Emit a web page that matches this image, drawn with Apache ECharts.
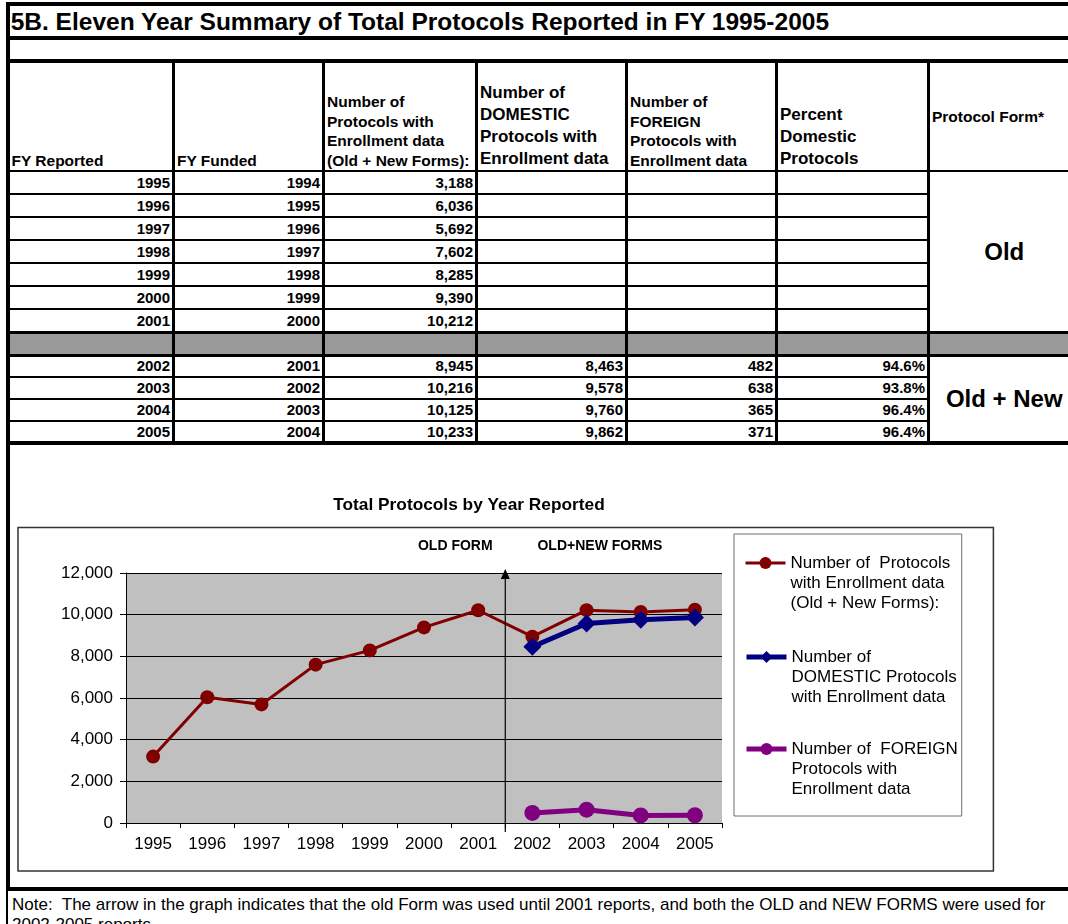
<!DOCTYPE html>
<html><head><meta charset="utf-8">
<script src="https://cdn.jsdelivr.net/npm/echarts@6/dist/echarts.min.js"></script>
<style>
html,body{margin:0;padding:0;background:#fff;}
body{width:1068px;height:924px;overflow:hidden;position:relative;font-family:"Liberation Sans",Arial,sans-serif;color:#000;}
.ln{position:absolute;background:#000;}
.cell{position:absolute;box-sizing:border-box;display:flex;font-weight:bold;white-space:nowrap;}
</style></head><body>
<div id="page"></div>
<div id="chart" style="position:absolute;left:10px;top:446px;width:1058px;height:440px;"></div>
<script>
// ---------------- DATA ----------------
const pageTitle = '5B. Eleven Year Summary of Total Protocols Reported in FY 1995-2005';
const fyReported = [1995, 1996, 1997, 1998, 1999, 2000, 2001, 2002, 2003, 2004, 2005];
const fyFunded = [1994, 1995, 1996, 1997, 1998, 1999, 2000, 2001, 2002, 2003, 2004];
const totalProtocols = [3188, 6036, 5692, 7602, 8285, 9390, 10212, 8945, 10216, 10125, 10233];
const domesticProtocols = [null, null, null, null, null, null, null, 8463, 9578, 9760, 9862];
const foreignProtocols = [null, null, null, null, null, null, null, 482, 638, 365, 371];
const percentDomestic = [null, null, null, null, null, null, null, 94.6, 93.8, 96.4, 96.4];
const columnHeaders = [
  ['FY Reported'],
  ['FY Funded'],
  ['Number of', 'Protocols with', 'Enrollment data', '(Old + New Forms):'],
  ['Number of', 'DOMESTIC', 'Protocols with', 'Enrollment data'],
  ['Number of', 'FOREIGN', 'Protocols with', 'Enrollment data'],
  ['Percent', 'Domestic', 'Protocols'],
  ['Protocol Form*']
];
const formGroups = ['Old', 'Old + New'];
const chartTitle = 'Total Protocols by Year Reported';
const formMarks = ['OLD FORM', 'OLD+NEW FORMS'];
const seriesNames = [
  'Number of  Protocols\nwith Enrollment data\n(Old + New Forms):',
  'Number of\nDOMESTIC Protocols\nwith Enrollment data',
  'Number of  FOREIGN\nProtocols with\nEnrollment data'
];
const noteText = 'Note:  The arrow in the graph indicates that the old Form was used until 2001 reports, and both the OLD and NEW FORMS were used for\n2002-2005 reports.';

// ---------------- TABLE (HTML) ----------------
const page = document.getElementById('page');
function line(x, y, w, h, bg) {
  const d = document.createElement('div');
  d.className = 'ln';
  d.style.cssText = `left:${x}px;top:${y}px;width:${w}px;height:${h}px;background:${bg || '#000'};`;
  page.appendChild(d);
  return d;
}
function cell(x, y, w, h, html, css) {
  const d = document.createElement('div');
  d.className = 'cell';
  d.style.cssText = `left:${x}px;top:${y}px;width:${w}px;height:${h}px;` + (css || '');
  d.innerHTML = html;
  page.appendChild(d);
  return d;
}
const W = 1068;
const colX = [8, 173.5, 323.5, 476.5, 626.5, 776.5, 928.5, 1080];
const headerTop = 62.5, headerBottom = 171;
const oldH = 23, grayH = 23, newH = [22, 22, 22, 22];
const rowTops = [], rowHs = [];
let yy = headerBottom;
for (let i = 0; i < 7; i++) { rowTops.push(yy); rowHs.push(oldH); yy += oldH; }
const grayTop = yy; yy += grayH; const grayBottom = yy;
for (let i = 0; i < 4; i++) { rowTops.push(yy); rowHs.push(newH[i]); yy += newH[i]; }
const tableBottom = yy;

// gray separator row
line(8, grayTop, W - 8, grayH, '#999999');

// title
cell(10.7, 7.5, 1055, 28, pageTitle, 'font-size:24.5px;line-height:28px;');

// frame lines
line(6, 2, 4, 888);              // left border
line(6, 2, W - 6, 4);            // top border
line(6, 36, W - 6, 3.5);
line(6, 58.5, W - 6, 4);
line(6, headerBottom - 1, W - 6, 2);
for (let i = 1; i < 7; i++) line(8, rowTops[i] - 1, colX[6] - 8, 2);
line(6, grayTop - 1.5, W - 6, 3);
line(6, grayBottom - 1.5, W - 6, 3);
for (let i = 8; i < 11; i++) line(8, rowTops[i] - 1, colX[6] - 8, 2);
line(6, tableBottom - 2, W - 6, 4);
for (let c = 1; c <= 6; c++) line(colX[c] - 1.25, 60.5, 2.5, tableBottom - 60.5);
line(6, 886.5, W - 6, 4);
line(6, 890, 1.5, 40);

// header cells
const hdrFont = [15.5, 15.5, 15.5, 17, 15.5, 17, 15.5];
const hdrLH = [19.5, 19.5, 19.5, 22, 19.5, 22, 19.5];
columnHeaders.forEach((lines, c) => {
  const x = colX[c] + 1.5 + 2;
  const w = colX[c + 1] - colX[c] - 5;
  const just = c === 6 ? 'center' : 'flex-end';
  cell(x, headerTop, w, headerBottom - 1 - headerTop,
    lines.map(s => `<div>${s}</div>`).join(''),
    `flex-direction:column;justify-content:${just};font-size:${hdrFont[c]}px;line-height:${hdrLH[c]}px;`);
});

// data cells
const fmt = v => (v == null ? '' : v.toLocaleString('en-US'));
fyReported.forEach((yr, r) => {
  const vals = [String(yr), String(fyFunded[r]), fmt(totalProtocols[r]), fmt(domesticProtocols[r]),
    fmt(foreignProtocols[r]), percentDomestic[r] == null ? '' : percentDomestic[r].toFixed(1) + '%'];
  vals.forEach((t, c) => {
    if (!t) return;
    const x = colX[c] + 1.5;
    const w = colX[c + 1] - colX[c] - 3 - 2;
    cell(x, rowTops[r], w, rowHs[r], t,
      'justify-content:flex-end;align-items:center;font-size:15px;line-height:16px;');
  });
});
// merged form cells
cell(colX[6] + 1.5, headerBottom, colX[7] - colX[6] - 3, grayTop - headerBottom, formGroups[0],
  'justify-content:center;align-items:center;font-size:24px;');
cell(colX[6] + 1.5, grayBottom, colX[7] - colX[6] - 3, tableBottom - grayBottom, formGroups[1],
  'justify-content:center;align-items:center;font-size:24px;');

// note
const note = document.createElement('div');
note.style.cssText = 'position:absolute;left:12px;top:895px;font-size:17px;line-height:19.5px;white-space:pre;';
note.textContent = noteText;
page.appendChild(note);

// ---------------- CHART (ECharts) ----------------
const FONT = '"Liberation Sans", Arial, sans-serif';
const chart = echarts.init(document.getElementById('chart'), null, { renderer: 'canvas' });
const colors = ['#800000', '#000080', '#800080'];
const lineWidths = [3, 5, 5];
const legendTops = [67, 161, 253];
const option = {
  animation: false,
  textStyle: { fontFamily: FONT },
  title: {
    text: chartTitle, left: 459, top: 50.5, textAlign: 'center', padding: 0,
    textStyle: { fontSize: 17.3, fontWeight: 'bold', color: '#000', fontFamily: FONT }
  },
  grid: { left: 116, top: 127, width: 596, height: 250, show: true, backgroundColor: '#C0C0C0', borderWidth: 0 },
  xAxis: {
    type: 'category', data: fyReported.map(String), boundaryGap: true,
    axisLine: { lineStyle: { color: '#000', width: 1 } },
    axisTick: { show: true, length: 5, interval: 0, lineStyle: { color: '#000' } },
    axisLabel: { interval: 0, fontSize: 17, color: '#000', margin: 13, fontFamily: FONT },
    splitLine: { show: false }
  },
  yAxis: {
    type: 'value', min: 0, max: 12000, interval: 2000,
    axisLine: { show: true, lineStyle: { color: '#000', width: 1 } },
    axisTick: { show: true, length: 6, lineStyle: { color: '#000' } },
    axisLabel: { fontSize: 17, color: '#000', margin: 13, fontFamily: FONT, formatter: v => v.toLocaleString('en-US') },
    splitLine: { show: true, lineStyle: { color: '#000', width: 1 } }
  },
  legend: seriesNames.map((n, i) => ({
    data: [n], orient: 'vertical', left: 734, top: legendTops[i], padding: 0,
    itemWidth: 40, itemHeight: 15, selectedMode: false,
    lineStyle: { width: lineWidths[i] },
    formatter: name => '\n\n' + name,
    textStyle: { fontSize: 17, lineHeight: 20, color: '#000', fontFamily: FONT }
  })),
  series: [
    { name: seriesNames[0], type: 'line', data: totalProtocols, symbol: 'circle', symbolSize: 14,
      lineStyle: { color: colors[0], width: lineWidths[0] }, itemStyle: { color: colors[0] } },
    { name: seriesNames[1], type: 'line', data: domesticProtocols, symbol: 'diamond', symbolSize: 18,
      lineStyle: { color: colors[1], width: lineWidths[1] }, itemStyle: { color: colors[1] } },
    { name: seriesNames[2], type: 'line', data: foreignProtocols, symbol: 'circle', symbolSize: 16,
      lineStyle: { color: colors[2], width: lineWidths[2] }, itemStyle: { color: colors[2] } }
  ]
};
chart.setOption(option);

// arrow separating old and old+new forms, located from the axis scales
const xA = chart.convertToPixel({ xAxisIndex: 0 }, String(fyReported[6]));
const xB = chart.convertToPixel({ xAxisIndex: 0 }, String(fyReported[7]));
const ax = (xA + xB) / 2;
const yTop = chart.convertToPixel({ yAxisIndex: 0 }, 12000) - 4;
const yBot = chart.convertToPixel({ yAxisIndex: 0 }, 0) + 9;
chart.setOption({
  graphic: [
    { type: 'rect', shape: { x: 8, y: 81.6, width: 975.4, height: 343.4 }, style: { fill: 'none', stroke: '#333', lineWidth: 1.5 }, silent: true },
    { type: 'rect', shape: { x: 724, y: 88, width: 227.7, height: 282 }, style: { fill: 'none', stroke: '#6e6e6e', lineWidth: 1 }, silent: true },
    { type: 'line', shape: { x1: ax, y1: yBot, x2: ax, y2: yTop + 9 }, style: { stroke: '#000', lineWidth: 1.2 }, silent: true, z: 10 },
    { type: 'polygon', shape: { points: [[ax - 4.5, yTop + 10], [ax + 4.5, yTop + 10], [ax, yTop]] }, style: { fill: '#000' }, silent: true, z: 10 },
    { type: 'text', x: ax - 50, y: 99.7, style: { text: formMarks[0], fill: '#000', font: 'bold 14px ' + FONT, align: 'center', verticalAlign: 'middle' }, silent: true },
    { type: 'text', x: ax + 94.6, y: 99.7, style: { text: formMarks[1], fill: '#000', font: 'bold 14px ' + FONT, align: 'center', verticalAlign: 'middle' }, silent: true }
  ]
});
</script>
</body></html>
